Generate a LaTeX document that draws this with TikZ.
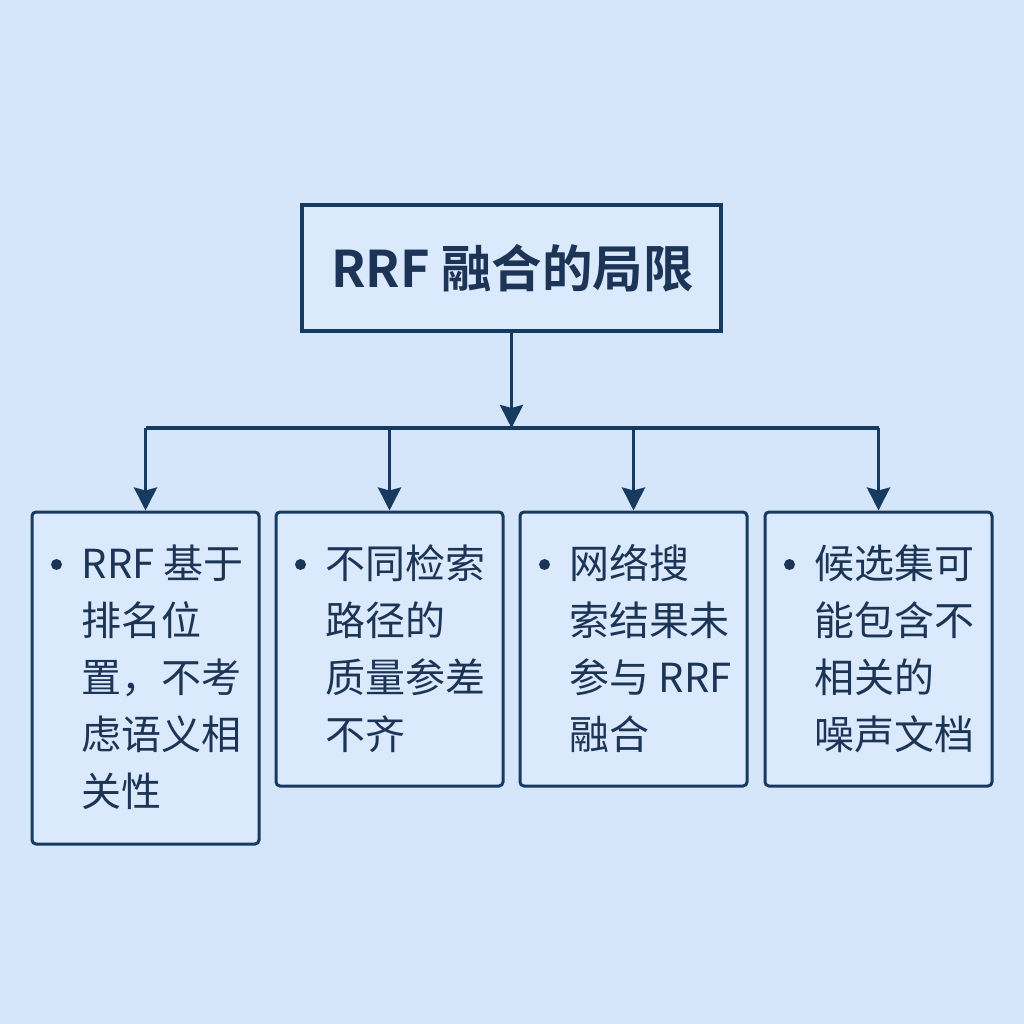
\documentclass[tikz,border=0pt]{standalone}
\usepackage{fontspec}
\setmainfont{Noto Sans CJK SC}
\newfontfamily\cjkbold{Noto Sans CJK SC Bold}
\usetikzlibrary{arrows.meta,calc}
\definecolor{bg}{HTML}{D6E6FA}
\definecolor{boxfill}{HTML}{DAE9FB}
\definecolor{navy}{HTML}{173A60}
\definecolor{txt}{HTML}{1C3556}
\tikzset{
  titlebox/.style={draw=navy, line width=4.5pt, fill=boxfill, minimum width=419pt, minimum height=126pt, inner sep=0pt},
  itembox/.style={draw=navy, line width=3pt, fill=boxfill, rounded corners=4pt, minimum width=227pt, inner sep=0pt},
  itemtext/.style={anchor=north west, inner sep=0pt, align=left, text=txt, font=\fontsize{40}{57}\selectfont},
  conn/.style={draw=navy, line width=3.5pt},
  arr/.style={conn, -{Stealth[length=23pt,width=23pt,inset=3pt]}},
}
\begin{document}
\begin{tikzpicture}[x=1pt,y=-1pt]
\fill[bg] (0,0) rectangle (1024,1024);
\useasboundingbox (0,0) rectangle (1024,1024);

\node[titlebox] (top) at (511.5,268) {};
\node[text=txt, font=\cjkbold\fontsize{50.5}{60}\selectfont, inner sep=0pt] (title) at (512.5,268) {RRF 融合的局限};

\node[itembox, minimum height=332pt] (b1) at (145.5,678) {};
\node[itembox, minimum height=274pt] (b2) at (389.5,649) {};
\node[itembox, minimum height=274pt] (b3) at (633.5,649) {};
\node[itembox, minimum height=274pt] (b4) at (878.5,649) {};

\node[itemtext] (t1) at ($(b1.north west)+(51,34)$) {RRF 基于\\排名位\\置，不考\\虑语义相\\关性};
\node[itemtext] (t2) at ($(b2.north west)+(51,34)$) {不同检索\\路径的\\质量参差\\不齐};
\node[itemtext] (t3) at ($(b3.north west)+(51,34)$) {网络搜\\索结果未\\参与 RRF\\融合};
\node[itemtext] (t4) at ($(b4.north west)+(51,34)$) {候选集可\\能包含不\\相关的\\噪声文档};

\foreach \b in {b1,b2,b3,b4}{
  \fill[txt] ($(\b.north west)+(26,54)$) circle (5.5pt);
}

\coordinate (hub) at (511.5,428);
\coordinate (hl) at (145.5,428);
\coordinate (hr) at (878.5,428);
\draw[arr] (top.south) -- (hub);
\draw[conn] (hl) -- (hr);
\draw[arr] (hl) -- (b1.north);
\draw[arr] (b2.north |- hub) -- (b2.north);
\draw[arr] (b3.north |- hub) -- (b3.north);
\draw[arr] (hr) -- (b4.north);
\end{tikzpicture}
\end{document}
